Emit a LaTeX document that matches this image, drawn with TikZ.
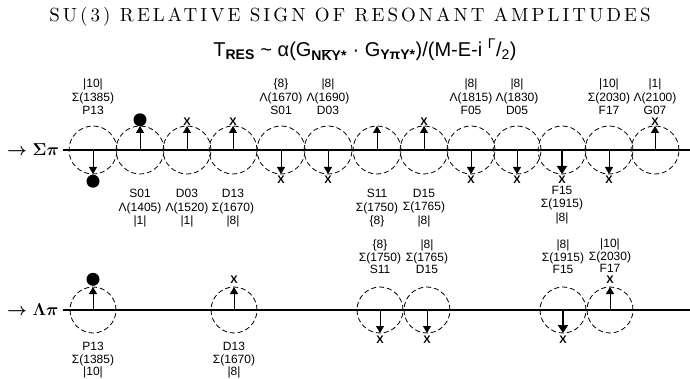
\documentclass[tikz,border=0pt]{standalone}
\usepackage{fontspec}
\usepackage{tikz}
\usetikzlibrary{arrows.meta,positioning}
\newfontfamily\labfont{Liberation Sans}
\newfontfamily\titlefont{lmroman10-regular.otf}[LetterSpace=16]

\tikzset{
  res/.style={circle,draw,dash pattern=on 5pt off 3pt,line width=0.8pt,
              minimum size=48pt,inner sep=0pt,outer sep=0pt},
  resl/.style={res,minimum size=46pt},
  amp/.style={line width=0.8pt,-{Triangle[length=7pt,width=8pt]}},
  bigamp/.style={line width=2.6pt,-{Triangle[length=8pt,width=10pt]}},
  xmark/.style={inner sep=0pt,font=\labfont\fontsize{11}{11}\selectfont\bfseries},
  ball/.style={circle,fill,minimum size=13pt,inner sep=0pt},
  lab/.style={inner sep=0pt,align=center,font=\labfont\fontsize{12}{13.5}\selectfont},
  labt/.style={lab,font=\labfont\fontsize{12}{12.5}\selectfont},
  chan/.style={line width=1.2pt},
  chanlab/.style={anchor=west,inner sep=0pt,font=\fontsize{16}{16}\selectfont\boldmath}
}

\begin{document}
\begin{tikzpicture}[x=1pt,y=1pt]
        \useasboundingbox (0,0) rectangle (690,-379);
        \node[font=\titlefont\fontsize{19}{19}\selectfont] (title) at (350,-17)
          {SU(3) RELATIVE SIGN OF RESONANT AMPLITUDES};
        \node[font=\labfont\fontsize{20}{20}\selectfont] (form) at (365,-50)
          {T\textsubscript{\bfseries RES} \textasciitilde\ α(G\textsubscript{\bfseries N$\overline{\mbox{K}}$Y*} · G\textsubscript{\bfseries YπY*})/(M-E-i \textsuperscript{Γ}/\textsubscript{2})};

        % Sigma pi channel
        \node[chanlab] (splab) at (7,-150) {$\rightarrow\Sigma\pi$};
        \coordinate (spend) at (690,-150);
        \draw[chan,shorten <=4pt] (splab.east) -- (spend);
        \foreach \x [count=\i] in {93,140,187,233,281,328,377,424,471,517,562,609,655}
          \node[res] (s\i) at (\x,-150) {};
        \foreach \i in {2,3,4,7,8,13}
          \draw[amp] (s\i.center) -- (s\i.north);
        \foreach \i in {1,5,6,9,10,12}
          \draw[amp] (s\i.center) -- (s\i.south);
        \draw[bigamp] (s11.center) -- (s11.south);
        \foreach \i in {3,4,8,13}
          \node[xmark,above=0.5pt of s\i] (xa\i) {X};
        \foreach \i in {5,6,9,10,11,12}
          \node[xmark,below=2pt of s\i] (xb\i) {X};
        \node[ball,below=0.5pt of s1] (ds1) {};
        \node[ball,above=-0.5pt of s2] (ds2) {};
        \foreach \i/\mult/\mass/\wave in {1/|10|/Σ(1385)/P13,5/\{8\}/Λ(1670)/S01,
            6/|8|/Λ(1690)/D03,9/|8|/Λ(1815)/F05,10/|8|/Λ(1830)/D05,
            12/|10|/Σ(2030)/F17,13/|1|/Λ(2100)/G07}
          \node[lab,above=11pt of s\i] (la\i) {\mult\\\mass\\\wave};
        \foreach \i/\mult/\mass/\wave in {2/|1|/Λ(1405)/S01,3/|1|/Λ(1520)/D03,
            4/|8|/Σ(1670)/D13,7/\{8\}/Σ(1750)/S11,8/|8|/Σ(1765)/D15}
          \node[lab,below=15pt of s\i] (lb\i) {\wave\\\mass\\\mult};
        \node[lab,below=12pt of s11] (lb11) {F15\\Σ(1915)\\|8|};

        % Lambda pi channel
        \node[chanlab] (lplab) at (7,-310) {$\rightarrow\Lambda\pi$};
        \coordinate (lpend) at (690,-310);
        \draw[chan,shorten <=4pt] (lplab.east) -- (lpend);
        \foreach \x [count=\i] in {93,234,380,427,563,610}
          \node[resl] (t\i) at (\x,-310) {};
        \foreach \i in {1,2,6}
          \draw[amp] (t\i.center) -- (t\i.north);
        \foreach \i in {3,4}
          \draw[amp] (t\i.center) -- (t\i.south);
        \draw[bigamp] (t5.center) -- (t5.south);
        \foreach \i in {2,6}
          \node[xmark,above=3pt of t\i] (xt\i) {X};
        \foreach \i in {3,4,5}
          \node[xmark,below=3pt of t\i] (yt\i) {X};
        \node[ball,above=1pt of t1] (dt1) {};
        \foreach \i/\mult/\mass/\wave in {3/\{8\}/Σ(1750)/S11,4/|8|/Σ(1765)/D15,
            5/|8|/Σ(1915)/F15}
          \node[labt,above=13pt of t\i] (lt\i) {\mult\\\mass\\\wave};
        \node[labt,above=3pt of xt6] (lt6) {|10|\\Σ(2030)\\F17};
        \foreach \i/\mult/\mass/\wave in {1/|10|/Σ(1385)/P13,2/|8|/Σ(1670)/D13}
          \node[labt,below=9pt of t\i] (mt\i) {\wave\\\mass\\\mult};
\end{tikzpicture}
\end{document}
